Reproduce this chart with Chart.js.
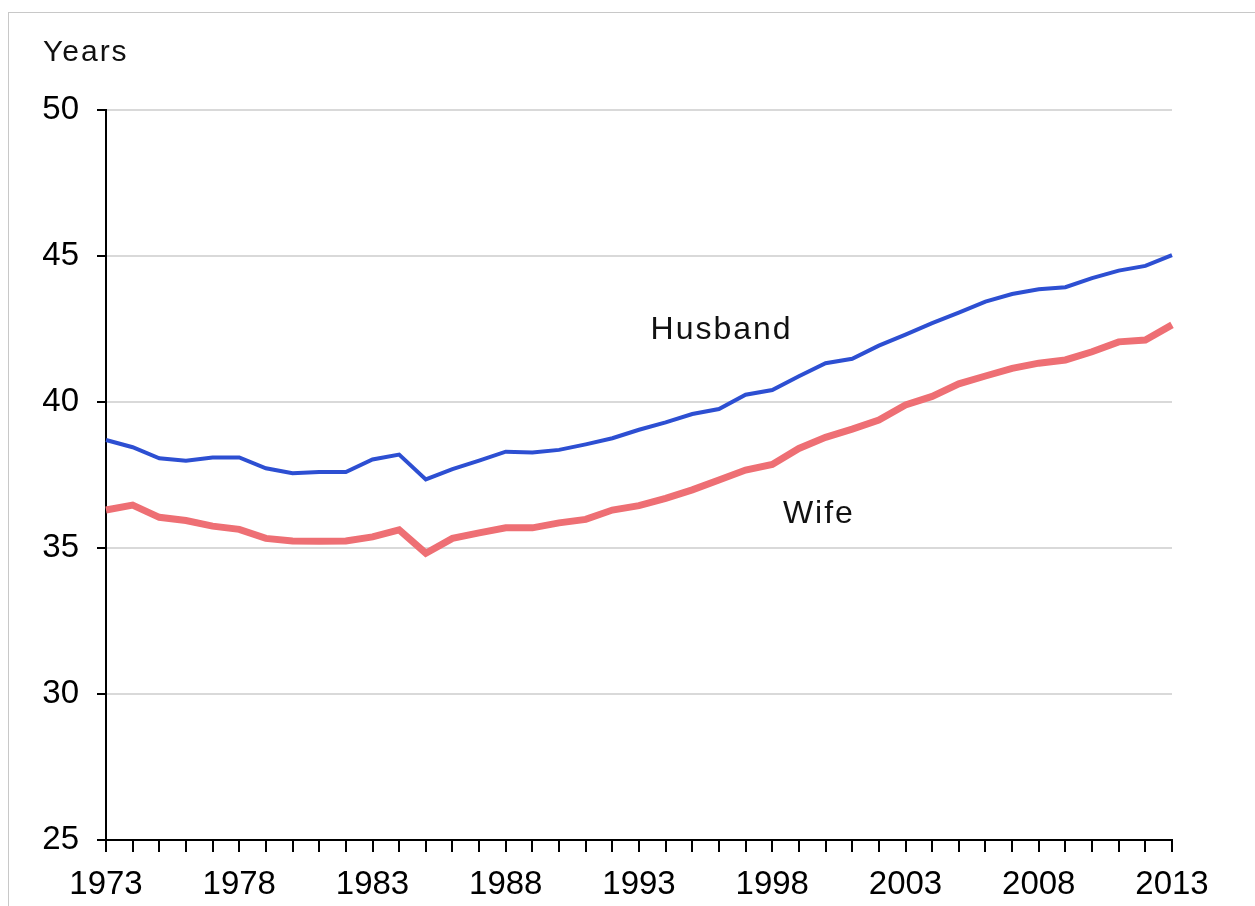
<!DOCTYPE html>
<html>
<head>
<meta charset="utf-8">
<script src="https://cdn.jsdelivr.net/npm/chart.js@4/dist/chart.umd.min.js"></script>
<style>
  html, body { margin: 0; padding: 0; background: #fff; overflow: hidden; }
  .frame { position: absolute; left: 8px; top: 12px; width: 1260px; height: 920px; border: 1px solid #c8c8c8; }
  .wrap { position: absolute; left: 0; top: 0; width: 1255px; height: 906px; }
</style>
</head>
<body>
<div class="frame"></div>
<div class="wrap"><canvas id="age"></canvas></div>
<script>
const years = [];
for (let y = 1973; y <= 2013; y++) years.push(String(y));

// average age at marriage
const husband = [
    38.70, 38.45, 38.07, 37.99, 38.10, 38.10, 37.73, 37.56, 37.60, 37.60,
    38.03, 38.20, 37.35, 37.70, 37.99, 38.30, 38.27, 38.36, 38.55, 38.76,
    39.05, 39.30, 39.59, 39.76, 40.25, 40.41, 40.88, 41.33, 41.48, 41.93,
    42.31, 42.70, 43.06, 43.44, 43.70, 43.86, 43.93, 44.24, 44.50, 44.66,
    45.03
];
const wife = [
    36.30, 36.47, 36.05, 35.94, 35.75, 35.64, 35.33, 35.24, 35.23, 35.24,
    35.38, 35.62, 34.82, 35.33, 35.52, 35.69, 35.69, 35.86, 35.98, 36.30,
    36.45, 36.70, 36.99, 37.33, 37.67, 37.86, 38.41, 38.79, 39.07, 39.38,
    39.90, 40.19, 40.62, 40.89, 41.15, 41.33, 41.44, 41.72, 42.06, 42.12,
    42.64
];
const yTicks = [25, 30, 35, 40, 45, 50];

// series names written next to the lines: [text, year index, value]
const seriesLabels = [
    ['Husband', 23.1, 42.47],
    ['Wife', 26.75, 36.15]
];

const font = '"Liberation Sans", Arial, sans-serif';

const labelPlugin = {
    id: 'labels',
    afterDraw(chart) {
        const ctx = chart.ctx;
        const xs = chart.scales.x, ys = chart.scales.y;
        ctx.save();
        ctx.fillStyle = '#111';
        ctx.letterSpacing = '2px';
        ctx.font = '30px ' + font;
        ctx.textAlign = 'left';
        ctx.textBaseline = 'middle';
        ctx.fillText('Years', 43, 53);
        ctx.font = '32px ' + font;
        ctx.textAlign = 'center';
        for (let item of seriesLabels) {
            ctx.fillText(item[0], xs.getPixelForValue(item[1]), ys.getPixelForValue(item[2]));
        }
        ctx.restore();
    }
};

const config = {
    type: 'line',
    data: {
        labels: years,
        datasets: [{
            label: 'Husband',
            data: husband,
            borderColor: '#2d4fd2',
            borderWidth: 4,
            pointRadius: 0,
            tension: 0
        }, {
            label: 'Wife',
            data: wife,
            borderColor: '#ee6f74',
            borderWidth: 7,
            pointRadius: 0,
            tension: 0
        }]
    },
    options: {
        responsive: false,
        animation: false,
        layout: {
            padding: { left: 0, top: 110, right: 83, bottom: 0 }
        },
        plugins: {
            legend: { display: false },
            tooltip: { enabled: false }
        },
        scales: {
            x: {
                offset: false,
                afterFit(scale) { scale.height = 66; },
                border: { color: '#000', width: 2 },
                grid: {
                    drawOnChartArea: false,
                    color: '#000',
                    tickColor: '#000',
                    tickLength: 12,
                    lineWidth: 2
                },
                ticks: {
                    autoSkip: false,
                    maxRotation: 0,
                    padding: 13,
                    color: '#000',
                    font: { family: font, size: 33 },
                    callback(value, index) {
                        return index % 5 === 0 ? years[index] : '';
                    }
                }
            },
            y: {
                min: 25,
                max: 50,
                afterFit(scale) { scale.width = 106; },
                afterBuildTicks(scale) {
                    scale.ticks = yTicks.map(v => ({ value: v }));
                },
                border: { color: '#000', width: 2 },
                grid: {
                    color: '#d9d9d9',
                    tickColor: '#000',
                    tickLength: 9,
                    lineWidth: 2
                },
                ticks: {
                    padding: 18,
                    color: '#000',
                    font: { family: font, size: 33 }
                }
            }
        }
    },
    plugins: [labelPlugin]
};

const c = document.getElementById('age');
c.width = 1255;
c.height = 906;
let chart = new Chart(c, config);
</script>
</body>
</html>
